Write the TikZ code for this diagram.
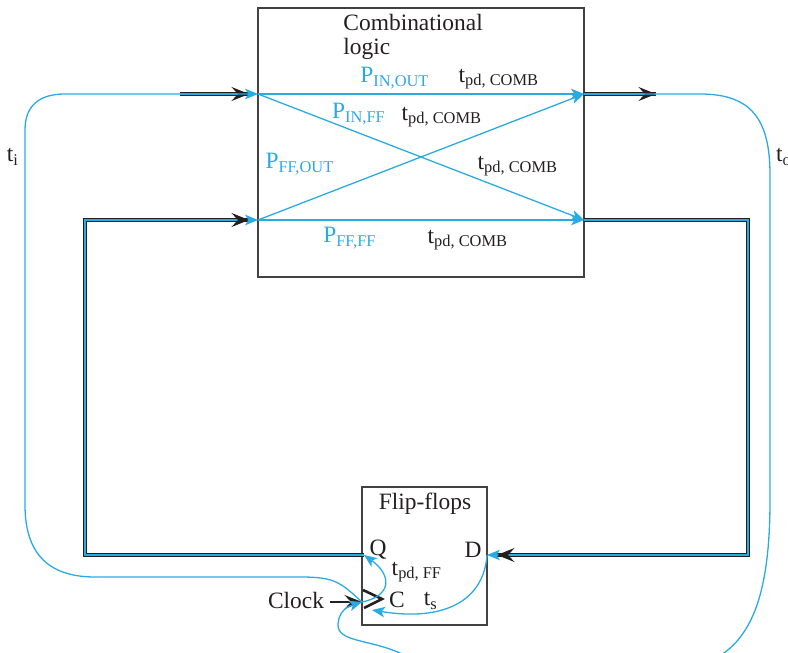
\documentclass[tikz,border=0pt]{standalone}
\usepackage{fontspec}
\setmainfont{Liberation Serif}
\usepackage{tikz}
\usetikzlibrary{arrows.meta, calc}
\definecolor{pathblue}{RGB}{41,171,226}
\definecolor{inkblack}{RGB}{35,31,32}

\begin{document}
\begin{tikzpicture}[
  x=0.015cm, y=-0.015cm,
  every node/.style={font=\fontsize{10}{10.5}\selectfont, text=inkblack, inner sep=0pt},
  block/.style={draw=inkblack!85, line width=0.6pt},
  wire/.style={draw=inkblack, double=pathblue, line width=0.5pt, double distance=1pt},
  wiretip/.style={-{Stealth[length=7.5pt, width=6pt, inset=2.8pt]}, inkblack, line width=0.5pt},
  timing/.style={pathblue, line width=0.55pt, -{Stealth[length=5.5pt, width=4.5pt, inset=1.4pt]}},
  plabel/.style={text=pathblue},
]
  \useasboundingbox (0,0) rectangle (788,653);
  \clip (0,0) rectangle (788,653);

  \node[block, minimum width=4.89cm, minimum height=4.035cm] (comb) at (421,142.5) {};
  \node[block, minimum width=1.875cm, minimum height=2.07cm] (ff) at (424.5,556) {};
  \node[anchor=west, align=left] (combtxt) at (343,37) {Combinational\\logic};
  \node (fftxt) at (425,504) {Flip-flops};

  % ports
  \coordinate (inA) at (258,94);
  \coordinate (inB) at (258,220);
  \coordinate (outA) at (584,94);
  \coordinate (outB) at (584,220);
  \coordinate (inW) at (180,94);
  \coordinate (inWT) at (249,94);
  \coordinate (inBT) at (249,220);
  \coordinate (outWT) at (656,94);
  \coordinate (qP) at (364,555);
  \coordinate (dP) at (487,555);
  \coordinate (dWT) at (497,555);
  \coordinate (clk) at (362,602);

  \node (qtxt) at (378,550) {Q};
  \node (dtxt) at (473,550) {D};
  \node (ctxt) at (397,600) {C};
  \node (clocktxt) at (296,600) {Clock};

  % wires
  \draw[wire] (inW) -- (inWT);
  \draw[wiretip] ($(inWT)+(-3,0)$) -- (inWT);
  \draw[wire] (outA) -- (outWT);
  \draw[wiretip] ($(outWT)+(-3,0)$) -- (outWT);
  \draw[wire] (qP) -- (85,555) -- (85,220) -- (inBT);
  \draw[wiretip] ($(inBT)+(-3,0)$) -- (inBT);
  \draw[timing] (inBT) -- (inB);
  \draw[wire] (outB) -- (748,220) -- (748,555) -- (dWT);
  \draw[wiretip] ($(dWT)+(3,0)$) -- (dWT);
  \draw[timing] (dWT) -- (dP);
  \draw[wiretip] (clocktxt.east) ++(6,2) -- (clk);
  \draw[inkblack, line width=1.1pt] (363,590) -- (382,599) -- (364,608);

  % paths through the logic
  \draw[timing] (inA) -- (outA);
  \draw[timing] (inA) -- (outB);
  \draw[timing] (inB) -- (outA);
  \draw[timing] (inB) -- (outB);
  \node[plabel] (pio) at (395,78) {P\textsubscript{IN,OUT}};
  \node (tio) at (499,79) {t\textsubscript{pd, COMB}};
  \node[plabel] (pif) at (359,114) {P\textsubscript{IN,FF}};
  \node (tif) at (442,117) {t\textsubscript{pd, COMB}};
  \node[plabel] (pfo) at (300,164) {P\textsubscript{FF,OUT}};
  \node (tfo) at (518,166) {t\textsubscript{pd, COMB}};
  \node[plabel] (pff) at (350,238) {P\textsubscript{FF,FF}};
  \node (tff) at (468,240) {t\textsubscript{pd, COMB}};

  % input and output timing
  \draw[timing] (clk) .. controls (340,582) and (335,577) .. (300,577) -- (95,577)
    .. controls (45,577) and (25,550) .. (25,505) -- (25,130)
    .. controls (25,105) and (40,94) .. (65,94) -- (inA);
  \draw[timing] (outA) -- (700,94) .. controls (752,94) and (770,120) .. (770,175)
    -- (770,500) .. controls (770,610) and (745,655) .. (690,668) -- (480,670)
    .. controls (445,668) and (418,661) .. (400,653) .. controls (368,639) and (337,642) .. (338,624)
    .. controls (339,612) and (346,607) .. (clk);
  \node (ti) at (13,157) {t\textsubscript{i}};
  \node (to) at (784,157) {t\textsubscript{o}};

  % flip-flop timing
  \draw[timing] (clk) .. controls (392,596) and (392,575) .. (qP);
  \draw[timing] (dP) .. controls (484,600) and (445,622) .. (372,610);
  \node (tpff) at (417,572) {t\textsubscript{pd, FF}};
  \node (tsu) at (431,601) {t\textsubscript{s}};
\end{tikzpicture}
\end{document}
